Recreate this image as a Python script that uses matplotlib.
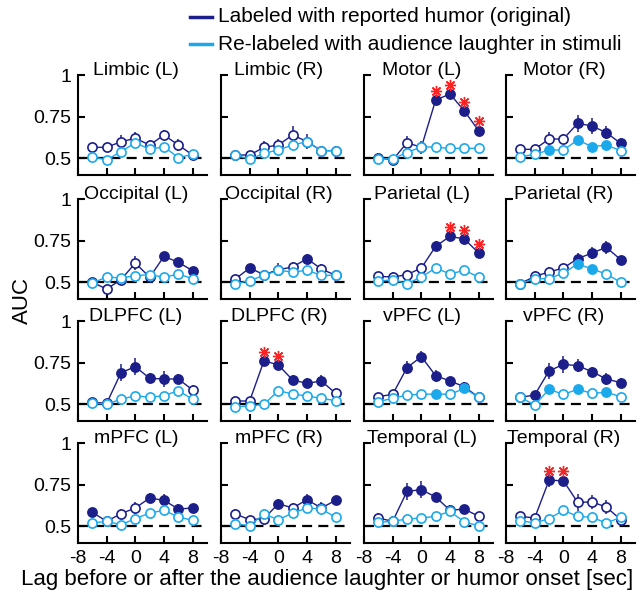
import matplotlib
matplotlib.use("Agg")
import matplotlib.pyplot as plt
import numpy as np
from matplotlib.lines import Line2D

plt.rcParams["font.family"] = ["Liberation Sans", "DejaVu Sans"]
plt.rcParams["axes.unicode_minus"] = False

lags = [-6, -4, -2, 0, 2, 4, 6, 8]
regions = [
    "Limbic (L)", "Limbic (R)", "Motor (L)", "Motor (R)",
    "Occipital (L)", "Occipital (R)", "Parietal (L)", "Parietal (R)",
    "DLPFC (L)", "DLPFC (R)", "vPFC (L)", "vPFC (R)",
    "mPFC (L)", "mPFC (R)", "Temporal (L)", "Temporal (R)",
]

# labeled with reported humor (original)
humor_auc = [
    [0.566, 0.566, 0.600, 0.620, 0.580, 0.640, 0.580, 0.520],
    [0.520, 0.520, 0.566, 0.580, 0.640, 0.600, 0.546, 0.546],
    [0.504, 0.490, 0.594, 0.566, 0.850, 0.886, 0.784, 0.666],
    [0.554, 0.554, 0.616, 0.616, 0.710, 0.694, 0.654, 0.590],
    [0.500, 0.460, 0.516, 0.616, 0.530, 0.656, 0.620, 0.570],
    [0.520, 0.586, 0.546, 0.576, 0.592, 0.642, 0.580, 0.542],
    [0.536, 0.532, 0.546, 0.586, 0.716, 0.776, 0.760, 0.676],
    [0.492, 0.536, 0.562, 0.586, 0.642, 0.676, 0.710, 0.636],
    [0.512, 0.506, 0.690, 0.726, 0.656, 0.652, 0.652, 0.586],
    [0.520, 0.520, 0.762, 0.736, 0.646, 0.626, 0.640, 0.566],
    [0.546, 0.560, 0.720, 0.786, 0.672, 0.640, 0.606, 0.542],
    [0.542, 0.556, 0.700, 0.740, 0.732, 0.696, 0.652, 0.630],
    [0.584, 0.530, 0.576, 0.610, 0.670, 0.656, 0.604, 0.610],
    [0.574, 0.540, 0.546, 0.636, 0.610, 0.660, 0.610, 0.656],
    [0.550, 0.530, 0.710, 0.720, 0.676, 0.596, 0.604, 0.560],
    [0.560, 0.550, 0.776, 0.774, 0.644, 0.646, 0.616, 0.540],
]
humor_err = [
    [0.02, 0.02, 0.04, 0.04, 0.03, 0.03, 0.035, 0.03],
    [0.02, 0.02, 0.035, 0.035, 0.055, 0.045, 0.03, 0.03],
    [0.02, 0.03, 0.04, 0.04, 0.025, 0.025, 0.025, 0.025],
    [0.02, 0.02, 0.04, 0.03, 0.05, 0.05, 0.04, 0.03],
    [0.02, 0.02, 0.03, 0.04, 0.035, 0.025, 0.025, 0.025],
    [0.02, 0.02, 0.03, 0.04, 0.03, 0.03, 0.03, 0.02],
    [0.02, 0.03, 0.03, 0.03, 0.03, 0.03, 0.03, 0.03],
    [0.02, 0.03, 0.03, 0.025, 0.035, 0.035, 0.04, 0.025],
    [0.015, 0.015, 0.05, 0.05, 0.03, 0.05, 0.03, 0.03],
    [0.02, 0.02, 0.03, 0.03, 0.03, 0.03, 0.035, 0.03],
    [0.02, 0.02, 0.04, 0.035, 0.035, 0.025, 0.03, 0.02],
    [0.02, 0.02, 0.05, 0.05, 0.04, 0.03, 0.035, 0.03],
    [0.02, 0.02, 0.03, 0.035, 0.03, 0.035, 0.03, 0.02],
    [0.03, 0.02, 0.035, 0.03, 0.03, 0.035, 0.035, 0.025],
    [0.03, 0.03, 0.05, 0.05, 0.03, 0.03, 0.02, 0.02],
    [0.02, 0.02, 0.04, 0.03, 0.05, 0.04, 0.04, 0.03],
]
humor_sig = [
    "00000000", "00000000", "00001111", "00001111",
    "00000111", "01000100", "00001111", "00001111",
    "00111110", "00111110", "00111110", "01111111",
    "10001111", "00010101", "00111010", "00110000",
]

# re-labeled with audience laughter in stimuli
laughter_auc = [
    [0.510, 0.490, 0.540, 0.594, 0.554, 0.570, 0.504, 0.524],
    [0.520, 0.494, 0.530, 0.550, 0.580, 0.600, 0.546, 0.546],
    [0.496, 0.498, 0.534, 0.570, 0.566, 0.560, 0.560, 0.560],
    [0.510, 0.524, 0.550, 0.550, 0.610, 0.570, 0.580, 0.546],
    [0.496, 0.532, 0.526, 0.540, 0.546, 0.530, 0.550, 0.522],
    [0.492, 0.510, 0.542, 0.572, 0.562, 0.572, 0.542, 0.542],
    [0.506, 0.516, 0.492, 0.532, 0.586, 0.550, 0.572, 0.532],
    [0.492, 0.522, 0.522, 0.556, 0.610, 0.580, 0.550, 0.500],
    [0.506, 0.502, 0.530, 0.552, 0.542, 0.552, 0.582, 0.530],
    [0.486, 0.490, 0.500, 0.582, 0.562, 0.550, 0.536, 0.522],
    [0.516, 0.536, 0.556, 0.560, 0.562, 0.560, 0.596, 0.542],
    [0.542, 0.496, 0.590, 0.560, 0.590, 0.566, 0.572, 0.546],
    [0.520, 0.530, 0.510, 0.546, 0.580, 0.596, 0.556, 0.536],
    [0.514, 0.504, 0.574, 0.540, 0.580, 0.610, 0.604, 0.554],
    [0.524, 0.530, 0.544, 0.550, 0.560, 0.590, 0.526, 0.504],
    [0.534, 0.520, 0.546, 0.596, 0.560, 0.554, 0.520, 0.554],
]
laughter_err = [0.02, 0.02, 0.02, 0.02, 0.02, 0.02, 0.02, 0.02,
                0.02, 0.02, 0.02, 0.02, 0.02, 0.03, 0.02, 0.02]
laughter_sig = [
    "00000000", "00000000", "00000000", "00101110",
    "00000000", "00000000", "00000000", "00001100",
    "00000000", "00000000", "00001010", "00101010",
    "00000000", "00000000", "00000000", "00000000",
]

# red asterisks: panel -> lag indices
starred = {2: [4, 5, 6, 7], 6: [5, 6, 7], 9: [2, 3], 15: [2, 3]}

NAVY = "#1c1e8a"
CYAN = "#1ba9ec"
RED = "#ff2222"

W_PX, H_PX = 640, 594
col_x = [78, 221, 364, 506]
row_top = [75, 199, 321, 443]
ax_w, ax_h = 129, 100

fig = plt.figure(figsize=(W_PX / 100, H_PX / 100), dpi=100)
x = np.array(lags)


def draw_series(ax, auc, err, sig, color, z):
    auc = np.array(auc)
    filled = np.array([s == "1" for s in sig])
    ax.plot(x, auc, color=color, lw=1.0, zorder=z)
    ax.errorbar(x, auc, yerr=err, fmt="none", ecolor=color, elinewidth=1.1,
                capsize=0, zorder=z)
    ax.plot(x[~filled], auc[~filled], "o", ms=6.6, mfc="white", mec=color,
            mew=1.2, ls="none", zorder=z + 0.5)
    ax.plot(x[filled], auc[filled], "o", ms=6.6, mfc=color, mec=color,
            mew=1.2, ls="none", zorder=z + 0.5)


for i, name in enumerate(regions):
    r, c = divmod(i, 4)
    ax = fig.add_axes([col_x[c] / W_PX, 1 - (row_top[r] + ax_h) / H_PX,
                       ax_w / W_PX, ax_h / H_PX])
    ax.set_xlim(-8, 10)
    ax.set_ylim(0.4, 1.0)
    ax.plot([-8, 10], [0.5, 0.5], color="black", lw=1.6, dashes=(4.5, 2.8),
            zorder=1)

    draw_series(ax, humor_auc[i], humor_err[i], humor_sig[i], NAVY, 2)
    draw_series(ax, laughter_auc[i], laughter_err[i], laughter_sig[i], CYAN, 3)

    if i in starred:
        idx = starred[i]
        ax.plot(x[idx], np.array(humor_auc[i])[idx] + 0.055, marker=(8, 2, 0),
                ms=8, color=RED, mew=1.0, ls="none", zorder=5, clip_on=False)

    ax.text(0.45, 1.0, name, transform=ax.transAxes, ha="center",
            va="baseline", fontsize=14)

    ax.set_xticks([-8, -4, 0, 4, 8])
    ax.set_yticks([0.5, 0.75, 1.0])
    ax.set_xticklabels(["-8", "-4", "0", "4", "8"] if r == 3 else [])
    ax.set_yticklabels(["0.5", "0.75", "1"] if c == 0 else [])
    ax.tick_params(direction="in", length=5, width=1.5, labelsize=14, pad=5)
    for side in ("top", "right"):
        ax.spines[side].set_visible(False)
    for side in ("left", "bottom"):
        ax.spines[side].set_linewidth(1.5)

# legend drawn by hand at the top right
for y_px, color, label in [(17, NAVY, "Labeled with reported humor (original)"),
                           (44, CYAN, "Re-labeled with audience laughter in stimuli")]:
    yy = 1 - y_px / H_PX
    fig.add_artist(Line2D([190 / W_PX, 212 / W_PX], [yy, yy], color=color, lw=2.5))
    fig.text(218 / W_PX, yy, label, va="center", ha="left", fontsize=15)

fig.text(22 / W_PX, 1 - 300 / H_PX, "AUC", rotation=90, ha="center",
         va="center", fontsize=16)
fig.text(327 / W_PX, 1 - 580 / H_PX,
         "Lag before or after the audience laughter or humor onset [sec]",
         ha="center", va="center", fontsize=16)

fig.savefig("out.png", dpi=100)
